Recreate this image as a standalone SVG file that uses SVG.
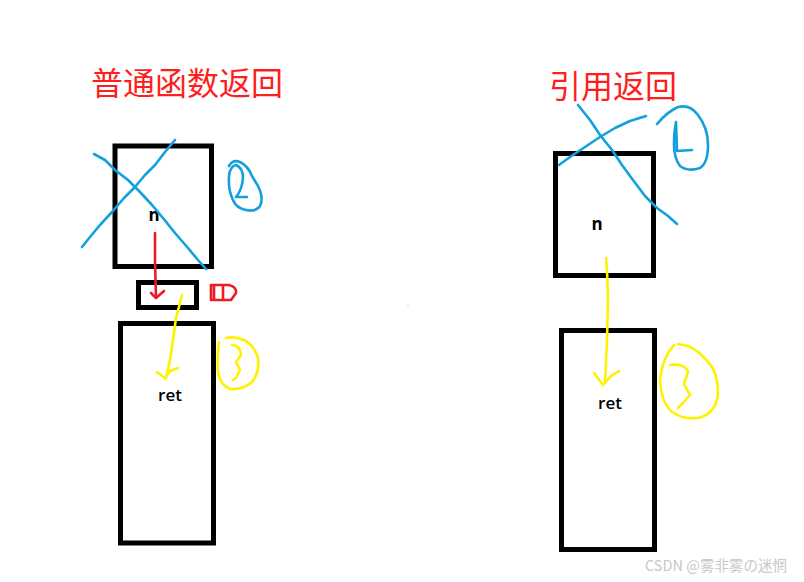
<svg xmlns="http://www.w3.org/2000/svg" width="804" height="582" viewBox="0 0 804 582">
<style>
.box{fill:none;stroke:#000;stroke-width:5}
.lbl{font-family:"Open Sans","Liberation Sans",sans-serif;font-size:17px;fill:#000}
.title{font-family:"Noto Sans CJK SC",sans-serif;font-size:32px;fill:#ff1e1e}
.blue{fill:none;stroke:#14a0dc;stroke-width:2.6;stroke-linecap:round;stroke-linejoin:round}
.yel{fill:none;stroke:#fff200;stroke-width:2.6;stroke-linecap:round;stroke-linejoin:round}
.red{fill:none;stroke:#ed1c24;stroke-width:2.6;stroke-linecap:round;stroke-linejoin:round}
</style>
<rect width="804" height="582" fill="#fff"/>
<text class="title" x="91" y="95">普通函数返回</text>
<text class="title" x="549" y="98">引用返回</text>

<g id="n-left">
<rect class="box" x="115" y="146" width="96.5" height="120.5"/>
<text class="lbl" x="154" y="221" text-anchor="middle" font-weight="bold">n</text>
</g>
<g id="temp">
<rect class="box" x="138.5" y="282.5" width="58" height="25"/>
</g>
<g id="ret-left">
<rect class="box" x="120.5" y="323.5" width="93" height="219.5"/>
<text class="lbl" x="170" y="401" text-anchor="middle" font-weight="600">ret</text>
</g>
<g id="n-right">
<rect class="box" x="555.5" y="153.5" width="98" height="122"/>
<text class="lbl" x="597" y="230" text-anchor="middle" font-weight="bold">n</text>
</g>
<g id="ret-right">
<rect class="box" x="561.5" y="330.5" width="93" height="219"/>
<text class="lbl" x="610" y="409" text-anchor="middle" font-weight="600">ret</text>
</g>

<g id="connectors">
<path class="red" d="M155 233 L155 262 L156 297"/>
<path class="red" d="M151 293 L156 298 L164 291"/>
<path class="yel" d="M182 295 L180 303 L176 318 L173 340 L170 360 L166 378"/>
<path class="yel" d="M157 372 L165 378 L170 371 L178 368"/>
<path class="yel" d="M606 258 L607 270 L608 300 L607 340 L605 383"/>
<path class="yel" d="M594 373 L603 385 L611 376 L619 371"/>
</g>

<g id="marks">
<path class="blue" d="M94 154 L105 160 L115 170 L128 180 L140 192 L152 205 L163 218 L175 233 L188 248 L198 260 L206 269"/>
<path class="blue" d="M175 140 L165 152 L155 165 L145 175 L135 187 L124 198 L112 212 L100 225 L90 237 L82 247"/>
<path class="blue" d="M229 166 Q233 159 240 162 Q248 166 252 176 L258 186 Q264 198 260 206 Q256 212 246 210 Q236 208 233 200 Q228 190 229 176 Q230 166 236 165 Q243 168 243 178 Q242 190 236 197 L247 197"/>
<path class="blue" d="M578 105 L590 120 L600 135 L612 150 L622 165 L633 180 L645 196 L657 208 L668 216 L677 224"/>
<path class="blue" d="M559 165 L570 157 L585 147 L600 137 L615 128 L630 121 L646 116"/>
<path class="blue" d="M657 124 Q667 112 678 107 Q690 104 698 115 Q708 128 708 145 Q708 163 700 168 Q688 172 680 166 Q674 158 674 145 Q674 132 676 122 L677 151 L692 150"/>
<path class="yel" d="M219 342 Q217 358 218 372 Q220 385 230 389 Q243 390 252 382 Q260 372 258 358 Q254 345 244 340 Q235 336 226 338 M232 345 Q240 345 241 355 L236 362 L240 370 L236 378 L233 380"/>
<path class="yel" d="M674 345 Q662 358 660 380 Q661 402 672 412 Q684 420 698 418 Q716 414 718 394 Q718 372 708 362 Q698 350 688 346 L678 344 M670 365 Q685 363 688 372 L684 384 L690 395 L682 404 L678 408"/>
<path class="red" d="M211 285 L211 300 M214 285 L214 300 M211 285 L229 285 Q237 287 236 293 L231 300 L211 300 M223 286 L223 299"/>
<circle cx="408" cy="306" r="0.8" fill="#e6e200"/>
</g>

<text x="645" y="571" font-family="'Noto Sans CJK SC',sans-serif" font-size="14.5" fill="#c8c8c8">CSDN @雾非雾の迷惘</text>
</svg>
